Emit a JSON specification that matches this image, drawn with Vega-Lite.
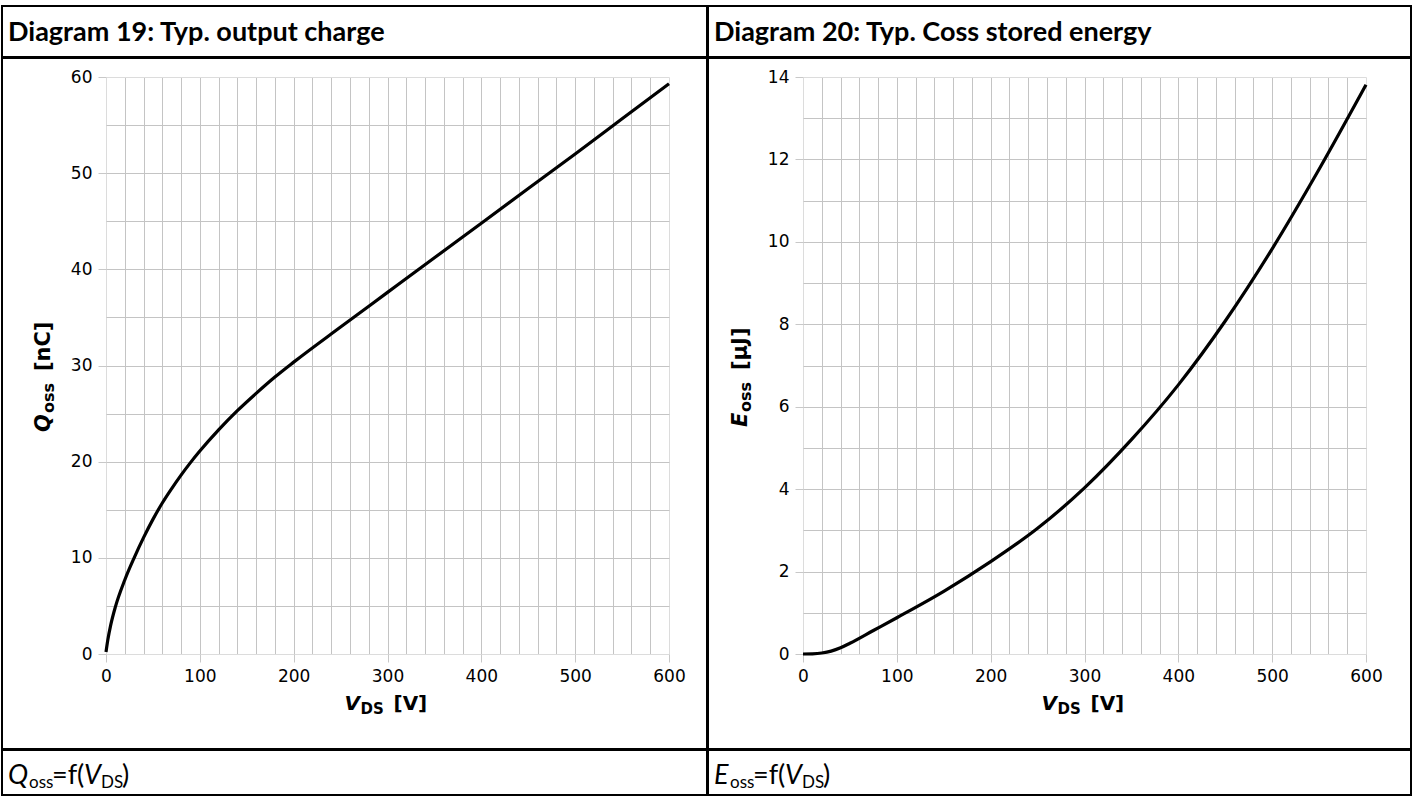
{
  "$schema": "https://vega.github.io/schema/vega-lite/v6.json",
  "background": "white",
  "padding": {"left": 1, "top": 5, "right": 0, "bottom": 0},
  "config": {
    "view": {"stroke": "black", "strokeWidth": 2},
    "axis": {
      "labelFont": "DejaVu Sans",
      "labelFontSize": 17,
      "labelColor": "black",
      "labelFlush": false,
      "tickColor": "#c8c8c8",
      "tickSize": 8,
      "labelPadding": 6,
      "domain": false,
      "gridColor": "#c4c4c4",
      "gridWidth": 1
    },
    "text": {"color": "black"}
  },
  "datasets": {
    "qoss": [
      {"V": 0, "Q": 0.2}, {"V": 2, "Q": 1.5}, {"V": 5, "Q": 3.0}, {"V": 10, "Q": 4.9}, {"V": 20, "Q": 7.7},
      {"V": 30, "Q": 10.0}, {"V": 40, "Q": 12.1}, {"V": 50, "Q": 14.0}, {"V": 60, "Q": 15.7}, {"V": 70, "Q": 17.2},
      {"V": 80, "Q": 18.6}, {"V": 90, "Q": 19.9}, {"V": 100, "Q": 21.1}, {"V": 120, "Q": 23.3}, {"V": 140, "Q": 25.3},
      {"V": 160, "Q": 27.1}, {"V": 180, "Q": 28.8}, {"V": 200, "Q": 30.35}, {"V": 250, "Q": 34.0}, {"V": 300, "Q": 37.6},
      {"V": 350, "Q": 41.2}, {"V": 400, "Q": 44.8}, {"V": 450, "Q": 48.4}, {"V": 500, "Q": 52.0}, {"V": 550, "Q": 55.65},
      {"V": 600, "Q": 59.3}
    ],
    "eoss": [
      {"V": 0, "E": 0.0}, {"V": 10, "E": 0.005}, {"V": 20, "E": 0.025}, {"V": 30, "E": 0.07}, {"V": 40, "E": 0.15},
      {"V": 50, "E": 0.26}, {"V": 75, "E": 0.57}, {"V": 100, "E": 0.88}, {"V": 150, "E": 1.52}, {"V": 200, "E": 2.24},
      {"V": 250, "E": 3.05}, {"V": 300, "E": 4.03}, {"V": 350, "E": 5.2}, {"V": 400, "E": 6.53}, {"V": 450, "E": 8.08},
      {"V": 500, "E": 9.83}, {"V": 550, "E": 11.76}, {"V": 600, "E": 13.81}
    ]
  },
  "spacing": -4,
  "hconcat": [
    {
      "spacing": -4,
      "vconcat": [
        {
          "width": 705, "height": 51,
          "data": {"values": [{"label": "Diagram 19: Typ. output charge"}]},
          "mark": {"type": "text", "align": "left", "baseline": "middle", "font": "Lato", "fontSize": 27, "fontWeight": "bold", "dx": 6, "dy": 1},
          "encoding": {
            "text": {"field": "label"},
            "x": {"datum": 0, "type": "quantitative", "scale": {"domain": [0, 1]}, "axis": null}
          }
        },
        {
          "width": 705, "height": 691,
          "resolve": {"axis": {"x": "independent", "y": "independent"}},
          "layer": [
            {
              "data": {"name": "qoss"},
              "mark": {"type": "line", "color": "black", "strokeWidth": 3.2, "interpolate": "monotone"},
              "encoding": {
                "x": {"field": "V", "type": "quantitative", "scale": {"domain": [0, 600], "range": [104, 667], "nice": false, "zero": false},
                  "axis": {"orient": "bottom", "offset": -95, "values": [0, 100, 200, 300, 400, 500, 600], "grid": false, "title": null}},
                "y": {"field": "Q", "type": "quantitative", "scale": {"domain": [0, 60], "range": [596, 19], "nice": false, "zero": false},
                  "axis": {"orient": "left", "offset": -104, "values": [0, 5, 10, 15, 20, 25, 30, 35, 40, 45, 50, 55, 60], "grid": true, "title": null,
                    "labelExpr": "datum.value % 10 === 0 ? datum.label : ''",
                    "tickColor": {"condition": {"test": "datum.value % 10 === 0", "value": "#c8c8c8"}, "value": "transparent"},
                    "gridColor": {"condition": {"test": "datum.value === 0 || datum.value === 60", "value": "#dcdcdc"}, "value": "#c4c4c4"}}}
              }
            },
            {
              "data": {"values": [{"t": "V"}]},
              "mark": {"type": "text", "align": "left", "baseline": "middle", "font": "DejaVu Sans", "fontSize": 20, "fontWeight": "bold", "fontStyle": "italic", "dx": -43},
              "encoding": {
                "text": {"field": "t"},
                "x": {"datum": 300, "type": "quantitative", "scale": {"domain": [0, 600], "range": [104, 667], "nice": false, "zero": false},
                  "axis": {"orient": "top", "offset": 0, "values": [0, 20, 40, 60, 80, 100, 120, 140, 160, 180, 200, 220, 240, 260, 280, 300, 320, 340, 360, 380, 400, 420, 440, 460, 480, 500, 520, 540, 560, 580, 600],
                    "grid": true, "labels": false, "ticks": false, "domain": false, "title": null,
                    "gridColor": {"condition": {"test": "datum.value === 0 || datum.value === 600", "value": "#dcdcdc"}, "value": "#c4c4c4"}}},
                "y": {"datum": -5.2, "type": "quantitative", "scale": {"domain": [0, 60], "range": [596, 19], "nice": false, "zero": false}, "axis": null}
              }
            },
            {
              "data": {"values": [{"t": "DS"}]},
              "mark": {"type": "text", "align": "left", "baseline": "middle", "font": "DejaVu Sans", "fontSize": 15, "fontWeight": "bold", "dx": -27, "dy": 5},
              "encoding": {
                "text": {"field": "t"},
                "x": {"datum": 300, "type": "quantitative", "scale": {"domain": [0, 600], "range": [104, 667], "nice": false, "zero": false}, "axis": null},
                "y": {"datum": -5.2, "type": "quantitative", "scale": {"domain": [0, 60], "range": [596, 19], "nice": false, "zero": false}, "axis": null}
              }
            },
            {
              "data": {"values": [{"t": "[V]"}]},
              "mark": {"type": "text", "align": "left", "baseline": "middle", "font": "DejaVu Sans", "fontSize": 20, "fontWeight": "bold", "dx": 6},
              "encoding": {
                "text": {"field": "t"},
                "x": {"datum": 300, "type": "quantitative", "scale": {"domain": [0, 600], "range": [104, 667], "nice": false, "zero": false}, "axis": null},
                "y": {"datum": -5.2, "type": "quantitative", "scale": {"domain": [0, 60], "range": [596, 19], "nice": false, "zero": false}, "axis": null}
              }
            },
            {
              "data": {"values": [{"t": "Q"}]},
              "mark": {"type": "text", "align": "left", "baseline": "middle", "angle": 270, "font": "DejaVu Sans", "fontSize": 21, "fontWeight": "bold", "fontStyle": "italic", "dx": -57},
              "encoding": {
                "text": {"field": "t"},
                "x": {"datum": -66, "type": "quantitative", "scale": {"domain": [0, 600], "range": [104, 667], "nice": false, "zero": false}, "axis": null},
                "y": {"datum": 29, "type": "quantitative", "scale": {"domain": [0, 60], "range": [596, 19], "nice": false, "zero": false}, "axis": null}
              }
            },
            {
              "data": {"values": [{"t": "oss"}]},
              "mark": {"type": "text", "align": "left", "baseline": "middle", "angle": 270, "font": "DejaVu Sans", "fontSize": 16, "fontWeight": "bold", "dx": -38, "dy": 5},
              "encoding": {
                "text": {"field": "t"},
                "x": {"datum": -66, "type": "quantitative", "scale": {"domain": [0, 600], "range": [104, 667], "nice": false, "zero": false}, "axis": null},
                "y": {"datum": 29, "type": "quantitative", "scale": {"domain": [0, 60], "range": [596, 19], "nice": false, "zero": false}, "axis": null}
              }
            },
            {
              "data": {"values": [{"t": "[nC]"}]},
              "mark": {"type": "text", "align": "left", "baseline": "middle", "angle": 270, "font": "DejaVu Sans", "fontSize": 21, "fontWeight": "bold", "dx": 4},
              "encoding": {
                "text": {"field": "t"},
                "x": {"datum": -66, "type": "quantitative", "scale": {"domain": [0, 600], "range": [104, 667], "nice": false, "zero": false}, "axis": null},
                "y": {"datum": 29, "type": "quantitative", "scale": {"domain": [0, 60], "range": [596, 19], "nice": false, "zero": false}, "axis": null}
              }
            }
          ]
        },
        {
          "width": 705, "height": 45,
          "layer": [
            {"data": {"values": [{"t": "Q"}]}, "mark": {"type": "text", "align": "left", "baseline": "middle", "font": "Lato", "fontSize": 27, "fontStyle": "italic", "dx": 6, "dy": 3},
             "encoding": {"text": {"field": "t"}, "x": {"datum": 0, "type": "quantitative", "scale": {"domain": [0, 1]}, "axis": null}}},
            {"data": {"values": [{"t": "oss"}]}, "mark": {"type": "text", "align": "left", "baseline": "middle", "font": "Lato", "fontSize": 17, "dx": 27, "dy": 10},
             "encoding": {"text": {"field": "t"}, "x": {"datum": 0, "type": "quantitative", "scale": {"domain": [0, 1]}, "axis": null}}},
            {"data": {"values": [{"t": "=f("}]}, "mark": {"type": "text", "align": "left", "baseline": "middle", "font": "Lato", "fontSize": 27, "dx": 50, "dy": 3},
             "encoding": {"text": {"field": "t"}, "x": {"datum": 0, "type": "quantitative", "scale": {"domain": [0, 1]}, "axis": null}}},
            {"data": {"values": [{"t": "V"}]}, "mark": {"type": "text", "align": "left", "baseline": "middle", "font": "Lato", "fontSize": 27, "fontStyle": "italic", "dx": 82, "dy": 3},
             "encoding": {"text": {"field": "t"}, "x": {"datum": 0, "type": "quantitative", "scale": {"domain": [0, 1]}, "axis": null}}},
            {"data": {"values": [{"t": "DS"}]}, "mark": {"type": "text", "align": "left", "baseline": "middle", "font": "Lato", "fontSize": 17, "dx": 99, "dy": 10},
             "encoding": {"text": {"field": "t"}, "x": {"datum": 0, "type": "quantitative", "scale": {"domain": [0, 1]}, "axis": null}}},
            {"data": {"values": [{"t": ")"}]}, "mark": {"type": "text", "align": "left", "baseline": "middle", "font": "Lato", "fontSize": 27, "dx": 120, "dy": 3},
             "encoding": {"text": {"field": "t"}, "x": {"datum": 0, "type": "quantitative", "scale": {"domain": [0, 1]}, "axis": null}}}
          ]
        }
      ]
    },
    {
      "spacing": -4,
      "vconcat": [
        {
          "width": 703, "height": 51,
          "data": {"values": [{"label": "Diagram 20: Typ. Coss stored energy"}]},
          "mark": {"type": "text", "align": "left", "baseline": "middle", "font": "Lato", "fontSize": 27, "fontWeight": "bold", "dx": 6, "dy": 1},
          "encoding": {
            "text": {"field": "label"},
            "x": {"datum": 0, "type": "quantitative", "scale": {"domain": [0, 1]}, "axis": null}
          }
        },
        {
          "width": 703, "height": 691,
          "resolve": {"axis": {"x": "independent", "y": "independent"}},
          "layer": [
            {
              "data": {"name": "eoss"},
              "mark": {"type": "line", "color": "black", "strokeWidth": 3.2, "interpolate": "monotone"},
              "encoding": {
                "x": {"field": "V", "type": "quantitative", "scale": {"domain": [0, 600], "range": [95, 658], "nice": false, "zero": false},
                  "axis": {"orient": "bottom", "offset": -95, "values": [0, 100, 200, 300, 400, 500, 600], "grid": false, "title": null}},
                "y": {"field": "E", "type": "quantitative", "scale": {"domain": [0, 14], "range": [596, 19], "nice": false, "zero": false},
                  "axis": {"orient": "left", "offset": -95, "values": [0, 1, 2, 3, 4, 5, 6, 7, 8, 9, 10, 11, 12, 13, 14], "grid": true, "title": null,
                    "labelExpr": "datum.value % 2 === 0 ? datum.label : ''",
                    "tickColor": {"condition": {"test": "datum.value % 2 === 0", "value": "#c8c8c8"}, "value": "transparent"},
                    "gridColor": {"condition": {"test": "datum.value === 0 || datum.value === 14", "value": "#dcdcdc"}, "value": "#c4c4c4"}}}
              }
            },
            {
              "data": {"values": [{"t": "V"}]},
              "mark": {"type": "text", "align": "left", "baseline": "middle", "font": "DejaVu Sans", "fontSize": 20, "fontWeight": "bold", "fontStyle": "italic", "dx": -43},
              "encoding": {
                "text": {"field": "t"},
                "x": {"datum": 300, "type": "quantitative", "scale": {"domain": [0, 600], "range": [95, 658], "nice": false, "zero": false},
                  "axis": {"orient": "top", "offset": 0, "values": [0, 20, 40, 60, 80, 100, 120, 140, 160, 180, 200, 220, 240, 260, 280, 300, 320, 340, 360, 380, 400, 420, 440, 460, 480, 500, 520, 540, 560, 580, 600],
                    "grid": true, "labels": false, "ticks": false, "domain": false, "title": null,
                    "gridColor": {"condition": {"test": "datum.value === 0 || datum.value === 600", "value": "#dcdcdc"}, "value": "#c4c4c4"}}},
                "y": {"datum": -1.213, "type": "quantitative", "scale": {"domain": [0, 14], "range": [596, 19], "nice": false, "zero": false}, "axis": null}
              }
            },
            {
              "data": {"values": [{"t": "DS"}]},
              "mark": {"type": "text", "align": "left", "baseline": "middle", "font": "DejaVu Sans", "fontSize": 15, "fontWeight": "bold", "dx": -27, "dy": 5},
              "encoding": {
                "text": {"field": "t"},
                "x": {"datum": 300, "type": "quantitative", "scale": {"domain": [0, 600], "range": [95, 658], "nice": false, "zero": false}, "axis": null},
                "y": {"datum": -1.213, "type": "quantitative", "scale": {"domain": [0, 14], "range": [596, 19], "nice": false, "zero": false}, "axis": null}
              }
            },
            {
              "data": {"values": [{"t": "[V]"}]},
              "mark": {"type": "text", "align": "left", "baseline": "middle", "font": "DejaVu Sans", "fontSize": 20, "fontWeight": "bold", "dx": 6},
              "encoding": {
                "text": {"field": "t"},
                "x": {"datum": 300, "type": "quantitative", "scale": {"domain": [0, 600], "range": [95, 658], "nice": false, "zero": false}, "axis": null},
                "y": {"datum": -1.213, "type": "quantitative", "scale": {"domain": [0, 14], "range": [596, 19], "nice": false, "zero": false}, "axis": null}
              }
            },
            {
              "data": {"values": [{"t": "E"}]},
              "mark": {"type": "text", "align": "left", "baseline": "middle", "angle": 270, "font": "DejaVu Sans", "fontSize": 21, "fontWeight": "bold", "fontStyle": "italic", "dx": -52},
              "encoding": {
                "text": {"field": "t"},
                "x": {"datum": -66, "type": "quantitative", "scale": {"domain": [0, 600], "range": [95, 658], "nice": false, "zero": false}, "axis": null},
                "y": {"datum": 6.77, "type": "quantitative", "scale": {"domain": [0, 14], "range": [596, 19], "nice": false, "zero": false}, "axis": null}
              }
            },
            {
              "data": {"values": [{"t": "oss"}]},
              "mark": {"type": "text", "align": "left", "baseline": "middle", "angle": 270, "font": "DejaVu Sans", "fontSize": 16, "fontWeight": "bold", "dx": -37, "dy": 5},
              "encoding": {
                "text": {"field": "t"},
                "x": {"datum": -66, "type": "quantitative", "scale": {"domain": [0, 600], "range": [95, 658], "nice": false, "zero": false}, "axis": null},
                "y": {"datum": 6.77, "type": "quantitative", "scale": {"domain": [0, 14], "range": [596, 19], "nice": false, "zero": false}, "axis": null}
              }
            },
            {
              "data": {"values": [{"t": "[µJ]"}]},
              "mark": {"type": "text", "align": "left", "baseline": "middle", "angle": 270, "font": "DejaVu Sans", "fontSize": 21, "fontWeight": "bold", "dx": 5},
              "encoding": {
                "text": {"field": "t"},
                "x": {"datum": -66, "type": "quantitative", "scale": {"domain": [0, 600], "range": [95, 658], "nice": false, "zero": false}, "axis": null},
                "y": {"datum": 6.77, "type": "quantitative", "scale": {"domain": [0, 14], "range": [596, 19], "nice": false, "zero": false}, "axis": null}
              }
            }
          ]
        },
        {
          "width": 703, "height": 45,
          "layer": [
            {"data": {"values": [{"t": "E"}]}, "mark": {"type": "text", "align": "left", "baseline": "middle", "font": "Lato", "fontSize": 27, "fontStyle": "italic", "dx": 6, "dy": 3},
             "encoding": {"text": {"field": "t"}, "x": {"datum": 0, "type": "quantitative", "scale": {"domain": [0, 1]}, "axis": null}}},
            {"data": {"values": [{"t": "oss"}]}, "mark": {"type": "text", "align": "left", "baseline": "middle", "font": "Lato", "fontSize": 17, "dx": 22, "dy": 10},
             "encoding": {"text": {"field": "t"}, "x": {"datum": 0, "type": "quantitative", "scale": {"domain": [0, 1]}, "axis": null}}},
            {"data": {"values": [{"t": "=f("}]}, "mark": {"type": "text", "align": "left", "baseline": "middle", "font": "Lato", "fontSize": 27, "dx": 45, "dy": 3},
             "encoding": {"text": {"field": "t"}, "x": {"datum": 0, "type": "quantitative", "scale": {"domain": [0, 1]}, "axis": null}}},
            {"data": {"values": [{"t": "V"}]}, "mark": {"type": "text", "align": "left", "baseline": "middle", "font": "Lato", "fontSize": 27, "fontStyle": "italic", "dx": 77, "dy": 3},
             "encoding": {"text": {"field": "t"}, "x": {"datum": 0, "type": "quantitative", "scale": {"domain": [0, 1]}, "axis": null}}},
            {"data": {"values": [{"t": "DS"}]}, "mark": {"type": "text", "align": "left", "baseline": "middle", "font": "Lato", "fontSize": 17, "dx": 94, "dy": 10},
             "encoding": {"text": {"field": "t"}, "x": {"datum": 0, "type": "quantitative", "scale": {"domain": [0, 1]}, "axis": null}}},
            {"data": {"values": [{"t": ")"}]}, "mark": {"type": "text", "align": "left", "baseline": "middle", "font": "Lato", "fontSize": 27, "dx": 115, "dy": 3},
             "encoding": {"text": {"field": "t"}, "x": {"datum": 0, "type": "quantitative", "scale": {"domain": [0, 1]}, "axis": null}}}
          ]
        }
      ]
    }
  ]
}
